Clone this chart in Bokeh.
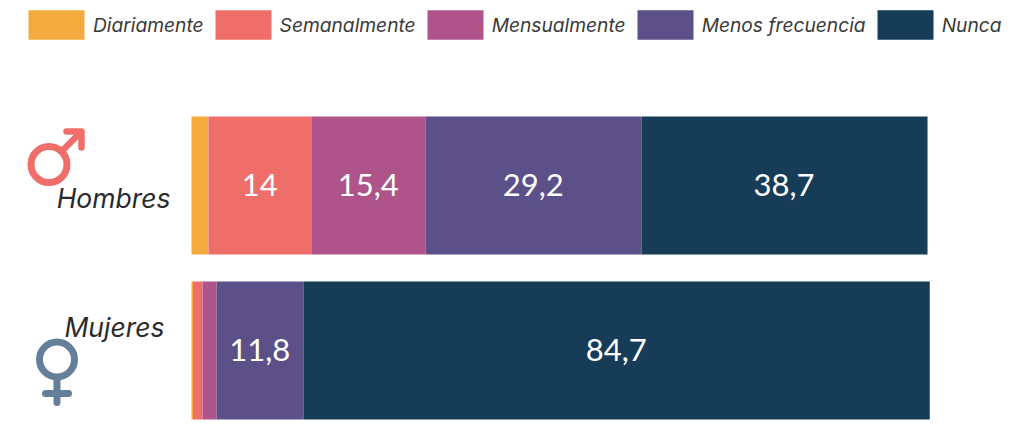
from bokeh.plotting import figure
from bokeh.models import Range1d, Legend, LegendItem, Label
from bokeh.core.properties import value
from bokeh.embed import file_html
from bokeh.resources import INLINE
import numpy as np

groups = ["Mujeres", "Hombres"]
series = ["Diariamente", "Semanalmente", "Mensualmente", "Menos frecuencia", "Nunca"]
colors = ["#F4AB3E", "#EF6E69", "#AE548A", "#5B5087", "#173C58"]
diariamente = [0.2, 2.3]
semanalmente = [1.3, 14]
mensualmente = [1.9, 15.4]
menos_frecuencia = [11.8, 29.2]
nunca = [84.7, 38.7]
min_label = 5

W, H = 1016, 425
SX, SY = 7.39, 165.0
def dx(px):
    return (px - 192) / SX
def dy(py):
    return (350 - py) / SY

p = figure(width=W, height=H, output_backend="svg", toolbar_location=None,
           x_range=Range1d(dx(1), dx(W + 1)), y_range=Range1d(dy(H), dy(0)),
           min_border=0, outline_line_color=None, background_fill_color="white",
           border_fill_color="white")
p.axis.visible = False
p.grid.visible = False

cols = [diariamente, semanalmente, mensualmente, menos_frecuencia, nunca]
ypos = np.arange(len(groups))
left = np.zeros(len(groups))
items = []
lx, ly, lt = [], [], []
for name, col, vals in zip(series, colors, cols):
    vals = np.array(vals, dtype=float)
    right = left + vals
    r = p.hbar(y=ypos, left=left, right=right, height=138 / SY, fill_color=col, line_color=None)
    items.append(LegendItem(label=name, renderers=[r]))
    for g, (a, b, v) in enumerate(zip(left, right, vals)):
        if v >= min_label:
            lx.append((a + b) / 2)
            ly.append(g)
            lt.append(f"{v:g}".replace(".", ","))
    left = right

p.text(x=lx, y=ly, text=lt, text_color="white", text_align="center", text_baseline="middle",
       x_offset=-0.5, y_offset=-1, text_font=value("Lato"), text_font_size="31px")

legend = Legend(items=items, orientation="horizontal", location=(21, H - 43), margin=0, padding=0,
                spacing=4, label_standoff=2, glyph_width=70, glyph_height=37,
                border_line_color=None, background_fill_alpha=0,
                label_text_font="Inter", label_text_font_style="italic",
                label_text_font_size="19.2px", label_text_color="#3a3a3a")
p.add_layout(legend)

for txt, rx, cy in [("Hombres", 171, 197), ("Mujeres", 165, 326)]:
    p.add_layout(Label(x=dx(rx), y=dy(cy), text=txt, text_align="right", text_baseline="middle",
                       text_font="Inter", text_font_style="italic", text_font_size="26.5px",
                       text_color="#2a2a2a"))

# gender symbols
MALE, FEMALE = "#EF6E69", "#647F9A"
p.scatter([dx(49.5)], [dy(164)], size=36, marker="circle", fill_color=None, line_color=MALE, line_width=7)
p.line([dx(63), dx(81)], [dy(150), dy(132)], line_color=MALE, line_width=6.5, line_cap="round")
p.line([dx(67), dx(82), dx(82)], [dy(131), dy(131), dy(147)], line_color=MALE, line_width=6.5,
       line_cap="round", line_join="round")
p.scatter([dx(57.5)], [dy(359)], size=35, marker="circle", fill_color=None, line_color=FEMALE, line_width=7)
p.line([dx(57.5), dx(57.5)], [dy(380), dy(402)], line_color=FEMALE, line_width=7, line_cap="round")
p.line([dx(46), dx(69)], [dy(393), dy(393)], line_color=FEMALE, line_width=7, line_cap="round")

open("out.html", "w").write(file_html(p, INLINE))
